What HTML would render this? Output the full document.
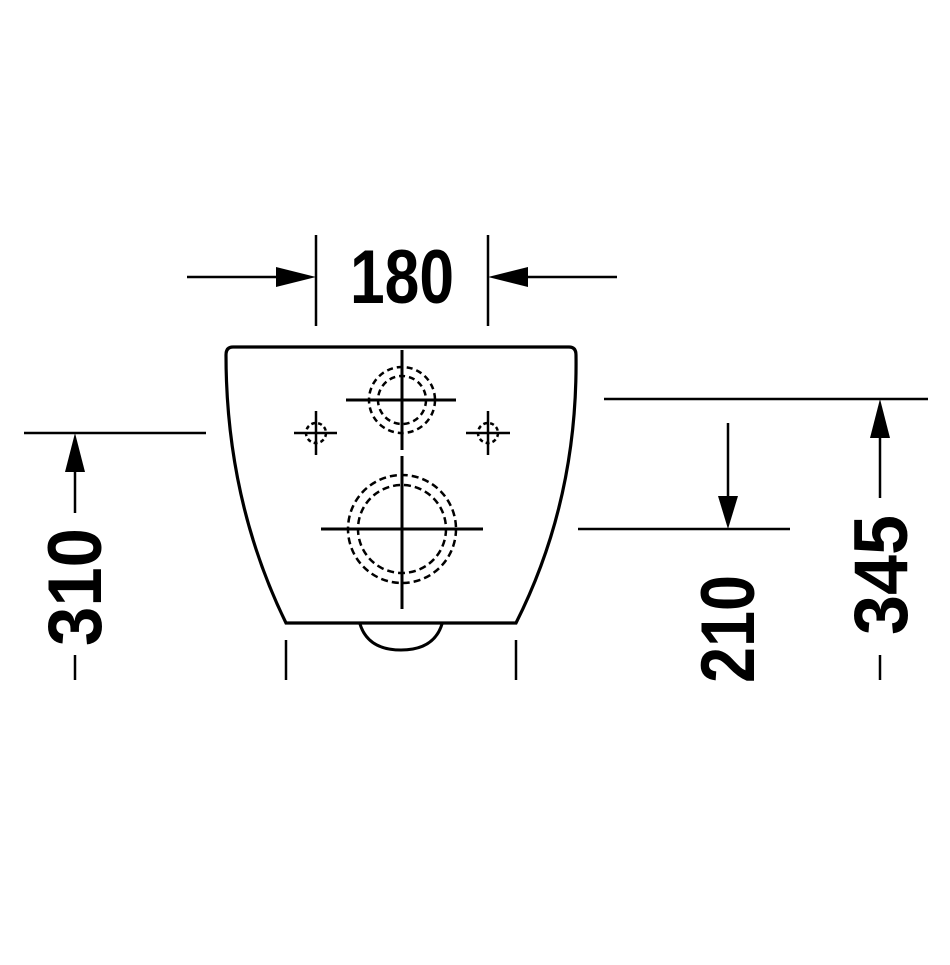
<!DOCTYPE html>
<html><head><style>html,body{margin:0;padding:0;background:#fff}</style></head>
<body>
<svg width="950" height="960" viewBox="0 0 950 960" xmlns="http://www.w3.org/2000/svg">
<g stroke="#000" fill="none" stroke-width="2.5">
<path d="M233,347 L569,347 Q576,347 576,355 Q578,500 516,623 L286,623 Q226,500 226,355 Q226,347 233,347 Z" stroke-width="3.2"/>
<path d="M360,624 Q368,650 401,650 Q434,650 442,624" stroke-width="3"/>
<line x1="316" y1="235" x2="316" y2="326"/>
<line x1="488" y1="235" x2="488" y2="326"/>
<line x1="187" y1="277" x2="290" y2="277"/>
<line x1="514" y1="277" x2="617" y2="277"/>
<line x1="402" y1="350" x2="402" y2="450" stroke-width="3"/>
<line x1="346" y1="400" x2="456" y2="400" stroke-width="3"/>
<circle cx="402" cy="400" r="33" stroke-dasharray="6,4"/>
<circle cx="402" cy="400" r="24" stroke-dasharray="6,4"/>
<line x1="316" y1="411" x2="316" y2="455"/>
<line x1="294" y1="433" x2="337" y2="433"/>
<circle cx="316" cy="433" r="10" stroke-dasharray="4,3"/>
<line x1="488" y1="411" x2="488" y2="455"/>
<line x1="466" y1="433" x2="510" y2="433"/>
<circle cx="488" cy="433" r="10" stroke-dasharray="4,3"/>
<line x1="402" y1="456" x2="402" y2="609" stroke-width="3"/>
<line x1="321" y1="529" x2="483" y2="529" stroke-width="3"/>
<circle cx="402" cy="529" r="54" stroke-dasharray="7,4"/>
<circle cx="402" cy="529" r="44" stroke-dasharray="7,4"/>
<line x1="24" y1="433" x2="206" y2="433"/>
<line x1="75" y1="470" x2="75" y2="513"/>
<line x1="75" y1="655" x2="75" y2="680"/>
<line x1="286" y1="640" x2="286" y2="680"/>
<line x1="516" y1="640" x2="516" y2="680"/>
<line x1="604" y1="399" x2="928" y2="399"/>
<line x1="578" y1="529" x2="790" y2="529"/>
<line x1="728" y1="423" x2="728" y2="500"/>
<line x1="880" y1="435" x2="880" y2="498"/>
<line x1="880" y1="655" x2="880" y2="680"/>
</g>
<g fill="#000">
<polygon points="316,277 276,267 276,287"/>
<polygon points="488,277 528,267 528,287"/>
<polygon points="75,433 65,472 85,472"/>
<polygon points="728,529 718,496 738,496"/>
<polygon points="880,399 870,438 890,438"/>
</g>
<g font-family="'Liberation Sans Narrow','Liberation Sans',sans-serif" font-weight="bold" fill="#000" font-size="76">
<text x="350" y="303" textLength="104" lengthAdjust="spacingAndGlyphs">180</text>
<text transform="translate(101,646) rotate(-90)" textLength="118" lengthAdjust="spacingAndGlyphs">310</text>
<text transform="translate(754,683) rotate(-90)" textLength="108" lengthAdjust="spacingAndGlyphs">210</text>
<text transform="translate(907,635) rotate(-90)" textLength="120" lengthAdjust="spacingAndGlyphs">345</text>
</g>
</svg>
</body></html>
